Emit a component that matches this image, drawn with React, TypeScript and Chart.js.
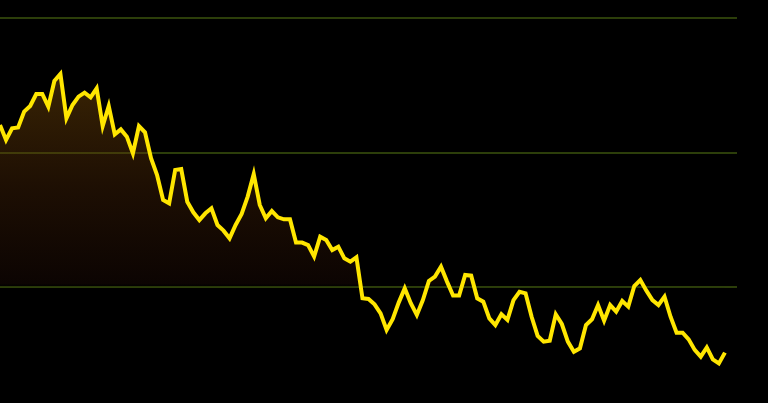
import React, { useEffect, useRef } from "react";
import { Chart, registerables } from "chart.js";

Chart.register(...registerables);

const prices: number[] = [
  32.05, 30.93, 31.8, 31.87, 33.04, 33.46, 34.35, 34.35, 33.41, 35.32,
  35.84, 32.54, 33.53, 34.15, 34.45, 34.1, 34.77, 31.97, 33.46, 31.35,
  31.72, 31.18, 29.94, 31.97, 31.5, 29.57, 28.33, 26.47, 26.22, 28.7,
  28.77, 26.34, 25.55, 24.98, 25.48, 25.85, 24.61, 24.19, 23.62, 24.61,
  25.43, 26.72, 28.4, 26.1, 25.11, 25.65, 25.18, 25.03, 25.03, 23.3,
  23.3, 23.12, 22.26, 23.74, 23.49, 22.75, 23.0, 22.13, 21.88, 22.21,
  19.16, 19.11, 18.71, 18.04, 16.8, 17.6, 18.84, 19.9, 18.79, 17.92,
  19.03, 20.45, 20.77, 21.51, 20.4, 19.36, 19.36, 20.89, 20.84, 19.16,
  18.91, 17.67, 17.17, 17.97, 17.55, 19.03, 19.65, 19.53, 17.79, 16.36,
  15.94, 16.01, 17.97, 17.25, 15.94, 15.19, 15.44, 17.17, 17.6, 18.66,
  17.5, 18.66, 18.17, 18.96, 18.54, 20.07, 20.52, 19.73, 19.03, 18.66,
  19.28, 17.79, 16.6, 16.6, 16.11, 15.32, 14.82, 15.51, 14.62, 14.32,
  15.12,
];

// Two empty slots at the end leave the gap between the last point and the grid end
const periods: string[] = Array.from({ length: prices.length + 2 }, (_, i) => String(i + 1));

const gridValues: number[] = [20, 30, 40];
const yMin = 11.375;
const yMax = 41.34;
const fillBase = 20;

export default function App() {
  const canvasRef = useRef<HTMLCanvasElement | null>(null);

  useEffect(() => {
    const canvas = canvasRef.current;
    if (!canvas) return;
    const chart = new Chart(canvas, {
      type: "line",
      data: {
        labels: periods,
        datasets: [
          {
            data: prices,
            borderColor: "#ffe600",
            borderWidth: 4,
            pointRadius: 0,
            tension: 0,
            borderJoinStyle: "miter",
            fill: { value: fillBase },
            backgroundColor: (ctx: any) => {
              const { chart: c } = ctx;
              const area = c.chartArea;
              if (!area) return "rgba(0,0,0,0)";
              const ys = c.scales.y;
              const top = ys.getPixelForValue(36);
              const base = ys.getPixelForValue(fillBase);
              const g = c.ctx.createLinearGradient(0, top, 0, base + 1);
              g.addColorStop(0, "rgba(140,88,10,0.42)");
              g.addColorStop(0.55, "rgba(80,40,8,0.36)");
              g.addColorStop(0.98, "rgba(34,12,6,0.35)");
              g.addColorStop(1, "rgba(0,0,0,0)");
              return g;
            },
          },
        ],
      },
      options: {
        animation: false,
        responsive: false,
        maintainAspectRatio: false,
        layout: { padding: { left: 0, right: 31, top: 0, bottom: 0 } },
        plugins: { legend: { display: false }, tooltip: { enabled: false } },
        scales: {
          x: { display: false, offset: false },
          y: {
            min: yMin,
            max: yMax,
            afterBuildTicks: (scale: any) => {
              scale.ticks = gridValues.map((v) => ({ value: v }));
            },
            afterFit: (scale: any) => {
              scale.width = 0;
            },
            ticks: { display: false },
            border: { display: false },
            grid: { color: "rgb(44,62,10)", lineWidth: 2, drawTicks: false },
          },
        },
      },
    });
    return () => chart.destroy();
  }, []);

  return (
    <div style={{ position: "fixed", left: 0, top: 0, width: 768, height: 403, background: "#000" }}>
      <canvas ref={canvasRef} width={768} height={403} style={{ display: "block" }} />
    </div>
  );
}
